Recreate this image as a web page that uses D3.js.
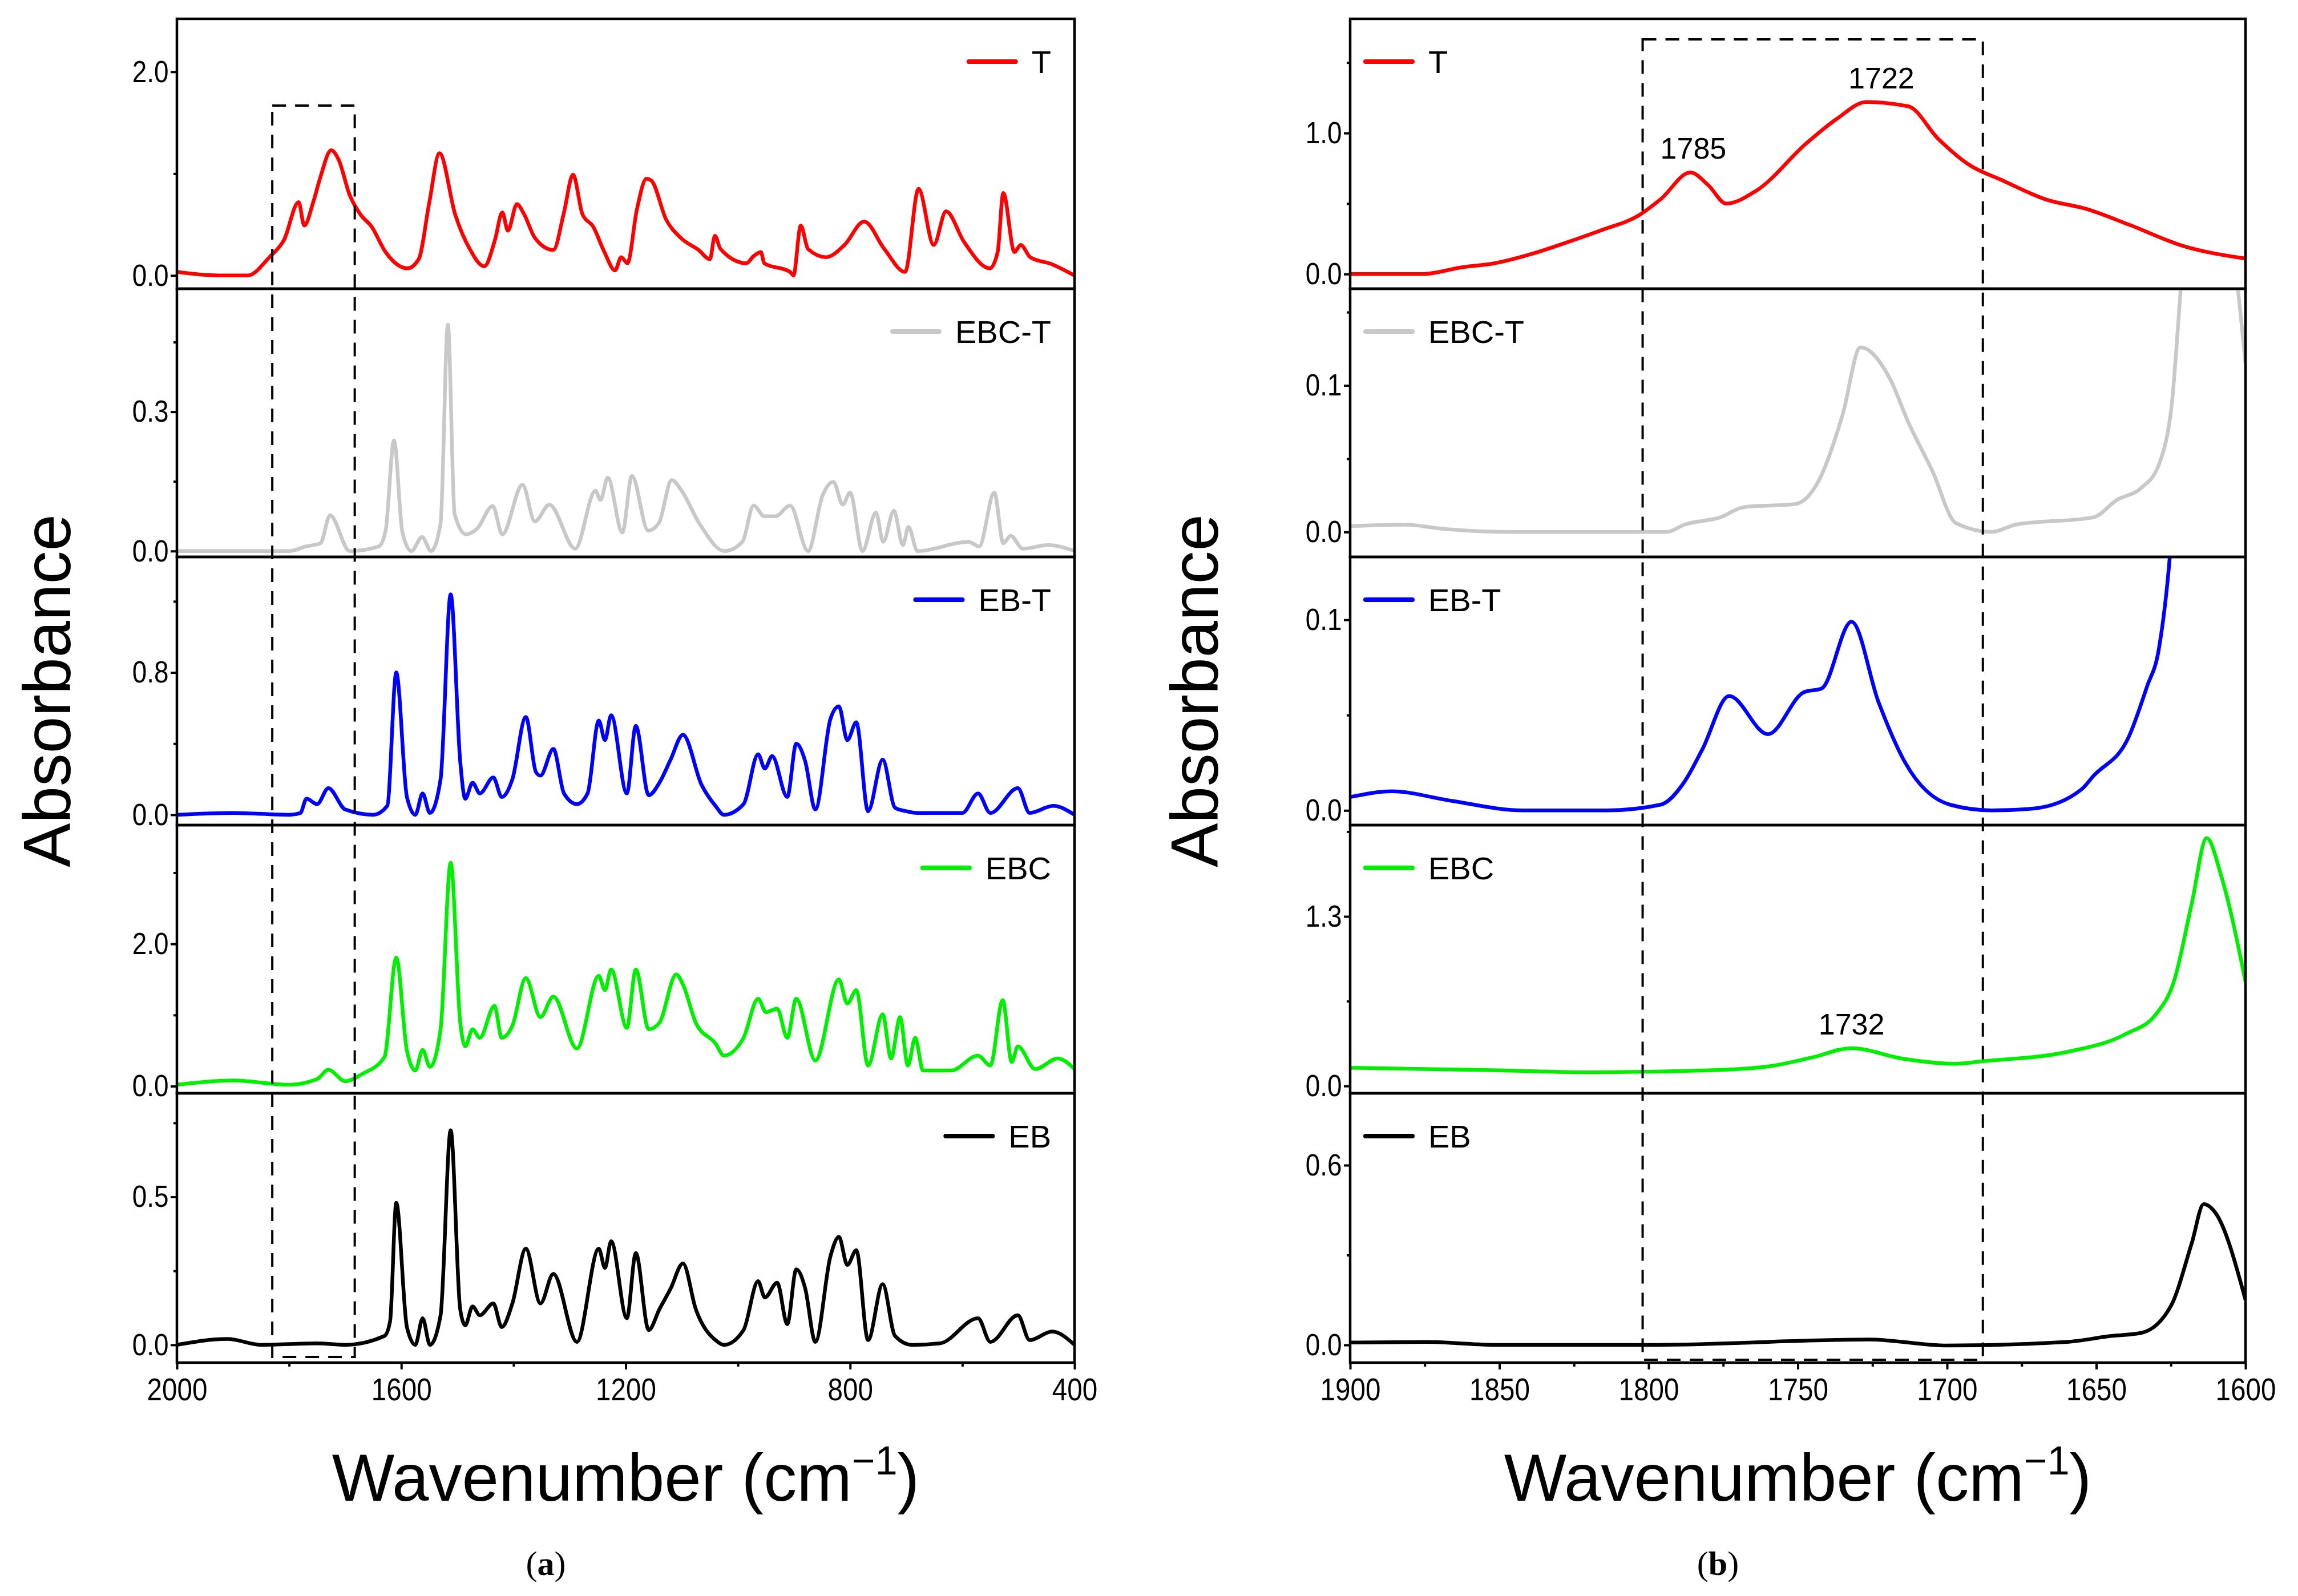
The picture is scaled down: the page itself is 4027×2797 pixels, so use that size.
<!DOCTYPE html>
<html>
<head>
<meta charset="utf-8">
<script src="https://cdn.jsdelivr.net/npm/d3@7"></script>
<style>
  body { margin: 0; background: #fff; }
  svg { display: block; }
</style>
</head>
<body>
<div id="chart"></div>
<script>
'use strict'

// ---------- data: [wavenumber, absorbance] ----------
const seriesNames = ["T", "EBC-T", "EB-T", "EBC", "EB"]
const seriesColors = ["#ff0000", "#c8c8c8", "#0000ff", "#00ee00", "#000000"]

// panel (a), 2000-400 cm-1
const fullT = [[2000,0.035],[1926,0],[1874,0],[1835,0.18],[1809,0.35],[1783,0.72],[1773,0.49],[1757,0.72],[1744,0.97],[1725,1.23],[1712,1.14],[1692,0.79],[1673,0.6],[1653,0.48],[1628,0.23],[1589,0.07],[1569,0.16],[1550,0.72],[1532,1.2],[1504,0.6],[1478,0.26],[1452,0.09],[1433,0.35],[1420,0.62],[1410,0.44],[1394,0.7],[1381,0.6],[1362,0.37],[1329,0.25],[1310,0.62],[1294,0.99],[1277,0.6],[1258,0.48],[1238,0.23],[1219,0.05],[1208,0.18],[1197,0.12],[1180,0.65],[1163,0.95],[1154,0.93],[1128,0.55],[1102,0.37],[1070,0.25],[1050,0.16],[1041,0.39],[1031,0.26],[985,0.12],[972,0.19],[959,0.23],[953,0.12],[907,0.035],[901,0],[888,0.49],[875,0.26],[843,0.18],[810,0.3],[775,0.53],[739,0.26],[702,0.035],[678,0.85],[651,0.3],[629,0.63],[597,0.33],[551,0.07],[537,0.23],[527,0.81],[507,0.23],[496,0.3],[479,0.18],[440,0.11],[400,0]]
const fullEBCT = [[2000,0],[1800,0],[1770,0.01],[1744,0.017],[1727,0.077],[1692,0],[1640,0.01],[1628,0.044],[1613,0.238],[1598,0.04],[1582,0],[1563,0.03],[1547,0],[1530,0.06],[1517,0.488],[1505,0.08],[1485,0.036],[1465,0.048],[1437,0.097],[1420,0.036],[1384,0.143],[1362,0.064],[1336,0.1],[1290,0.005],[1254,0.13],[1245,0.11],[1232,0.158],[1206,0.04],[1189,0.162],[1160,0.044],[1141,0.06],[1118,0.153],[1102,0.133],[1069,0.06],[1024,0],[992,0.02],[972,0.098],[953,0.075],[933,0.075],[907,0.098],[875,0],[849,0.12],[830,0.149],[813,0.1],[800,0.126],[778,0],[754,0.083],[741,0.02],[722,0.087],[706,0.013],[696,0.052],[680,0],[589,0.02],[570,0.01],[543,0.126],[527,0.017],[514,0.033],[492,0.005],[447,0.013],[400,0]]
const fullEBT = [[2000,0],[1900,0.01],[1800,0],[1780,0.01],[1769,0.09],[1750,0.06],[1730,0.15],[1700,0.03],[1650,0],[1625,0.05],[1609,0.8],[1590,0.1],[1575,0],[1562,0.12],[1549,0.01],[1530,0.2],[1512,1.24],[1495,0.3],[1486,0.09],[1473,0.18],[1460,0.12],[1436,0.21],[1421,0.1],[1402,0.2],[1378,0.55],[1360,0.24],[1352,0.22],[1329,0.37],[1310,0.12],[1287,0.06],[1268,0.12],[1248,0.53],[1237,0.42],[1226,0.56],[1198,0.12],[1182,0.5],[1159,0.11],[1140,0.18],[1120,0.31],[1098,0.45],[1065,0.17],[1040,0.05],[1025,0],[990,0.06],[964,0.34],[952,0.26],[939,0.33],[912,0.1],[896,0.4],[880,0.3],[862,0.03],[835,0.54],[820,0.61],[805,0.42],[789,0.52],[768,0.02],[742,0.31],[720,0.04],[700,0.02],[680,0.01],[600,0.01],[572,0.12],[550,0.01],[501,0.15],[480,0.01],[438,0.05],[400,0]]
const fullEBC = [[2000,0.02],[1900,0.08],[1800,0.02],[1750,0.1],[1730,0.23],[1700,0.07],[1670,0.17],[1630,0.41],[1609,1.81],[1590,0.5],[1575,0.22],[1562,0.51],[1549,0.27],[1530,0.8],[1512,3.14],[1495,0.9],[1486,0.56],[1473,0.8],[1460,0.68],[1434,1.13],[1421,0.68],[1402,0.85],[1378,1.52],[1352,0.97],[1329,1.26],[1287,0.53],[1248,1.55],[1237,1.35],[1226,1.64],[1198,0.82],[1182,1.64],[1159,0.8],[1140,0.89],[1110,1.57],[1098,1.43],[1075,0.89],[1040,0.6],[1025,0.43],[990,0.68],[964,1.23],[950,1.04],[930,1.09],[912,0.68],[896,1.23],[862,0.36],[820,1.5],[805,1.16],[789,1.35],[768,0.29],[742,1.01],[727,0.39],[711,0.97],[697,0.29],[684,0.68],[670,0.22],[620,0.22],[572,0.43],[550,0.29],[528,1.21],[512,0.34],[501,0.56],[470,0.24],[430,0.39],[400,0.24]]
const fullEB = [[2000,0],[1910,0.02],[1850,0],[1750,0.005],[1700,0],[1630,0.03],[1620,0.08],[1609,0.48],[1590,0.06],[1575,0],[1562,0.09],[1549,0],[1530,0.1],[1512,0.725],[1495,0.12],[1486,0.066],[1473,0.13],[1460,0.1],[1436,0.14],[1421,0.06],[1402,0.14],[1378,0.325],[1352,0.14],[1329,0.24],[1287,0.01],[1248,0.325],[1237,0.26],[1226,0.35],[1198,0.09],[1182,0.31],[1159,0.05],[1140,0.12],[1120,0.19],[1098,0.275],[1075,0.12],[1040,0.016],[1025,0],[990,0.05],[964,0.215],[952,0.16],[930,0.21],[912,0.07],[896,0.255],[880,0.19],[862,0.01],[835,0.3],[820,0.365],[805,0.27],[789,0.32],[768,0.016],[742,0.205],[720,0.03],[690,0],[640,0.005],[572,0.09],[550,0.01],[501,0.1],[480,0.016],[440,0.045],[400,0]]

// panel (b), 1900-1600 cm-1
const zoomT = [[1900,0],[1876,0],[1862,0.05],[1852,0.075],[1838,0.15],[1828,0.22],[1816,0.31],[1803,0.42],[1796,0.53],[1786,0.72],[1780,0.63],[1774,0.5],[1764,0.59],[1747,0.93],[1737,1.1],[1727,1.22],[1713,1.19],[1703,0.96],[1693,0.78],[1681,0.66],[1667,0.53],[1653,0.46],[1639,0.35],[1621,0.2],[1600,0.11]]
const zoomEBCT = [[1900,0.004],[1882,0.005],[1868,0.002],[1846,0],[1794,0],[1788,0.005],[1776,0.01],[1768,0.017],[1751,0.019],[1743,0.035],[1735,0.08],[1729,0.126],[1719,0.104],[1713,0.075],[1705,0.042],[1697,0.006],[1685,0],[1677,0.005],[1651,0.01],[1643,0.022],[1635,0.03],[1629,0.046],[1625,0.082],[1620,0.2],[1613,0.238],[1605,0.2],[1600,0.115]]
const zoomEBT = [[1900,0.007],[1886,0.01],[1866,0.005],[1842,0],[1814,0],[1796,0.003],[1788,0.015],[1782,0.032],[1773,0.06],[1760,0.04],[1748,0.062],[1742,0.064],[1732,0.099],[1723,0.057],[1714,0.025],[1699,0.003],[1685,0],[1671,0.001],[1655,0.011],[1651,0.018],[1639,0.039],[1633,0.065],[1629,0.085],[1625,0.14],[1615,0.5],[1609,0.8],[1600,0.4]]
const zoomEBC = [[1900,0.14],[1850,0.12],[1820,0.105],[1780,0.12],[1760,0.15],[1745,0.22],[1732,0.29],[1715,0.21],[1697,0.17],[1688,0.19],[1660,0.26],[1640,0.4],[1630,0.55],[1624,0.8],[1618,1.4],[1613,1.9],[1608,1.6],[1600,0.8]]
const zoomEB = [[1900,0.008],[1875,0.01],[1850,0],[1800,0],[1726,0.018],[1700,-0.002],[1660,0.01],[1645,0.03],[1635,0.04],[1625,0.13],[1618,0.34],[1614,0.47],[1610,0.44],[1600,0.15]]

// y domains, major and minor ticks per panel
const fullDomains = [[-0.13, 2.52], [-0.0126, 0.565], [-0.058, 1.45], [-0.1, 3.67], [-0.06, 0.85]]
const fullMajor = [[0, 2], [0, 0.3], [0, 0.8], [0, 2], [0, 0.5]]
const fullMinor = [[1], [0.15, 0.45], [0.4, 1.2], [1, 3], [0.25, 0.75]]
const zoomDomains = [[-0.104, 1.81], [-0.017, 0.166], [-0.0077, 0.133], [-0.056, 2.0], [-0.059, 0.84]]
const zoomMajor = [[0, 1], [0, 0.1], [0, 0.1], [0, 1.3], [0, 0.6]]
const zoomMinor = [[0.5, 1.5], [0.05, 0.15], [0.05], [0.65, 1.95], [0.3]]

const fullXTicks = [2000, 1600, 1200, 800, 400]
const fullXMinor = [1800, 1400, 1000, 600]
const zoomXTicks = [1900, 1850, 1800, 1750, 1700, 1650, 1600]
const zoomXMinor = [1875, 1825, 1775, 1725, 1675, 1625]

const annotations = [
  { panel: 0, wn: 1785, v: 0.72, text: "1785" },
  { panel: 0, wn: 1722, v: 1.22, text: "1722" },
  { panel: 3, wn: 1732, v: 0.29, text: "1732" }
]

////////////////////////////////////
//////////// svg setup /////////////
////////////////////////////////////

const W = 4027, H = 2797
const svg = d3.select("#chart").append("svg").attr("width", W).attr("height", H)

const narrow = "'Liberation Sans Narrow', 'Arial Narrow', 'Liberation Sans', Arial, sans-serif"
const regular = "'Liberation Sans', Arial, sans-serif"
const panelEdges = [33, 506, 976, 1446, 1916, 2388]

// squeeze text horizontally a bit, the original uses a condensed face
function condense(sel, k) {
  sel.each(function () {
    const t = d3.select(this)
    const x = +t.attr("x") || 0
    const y = +t.attr("y") || 0
    t.attr("transform", `translate(${x},${y}) scale(${k},1) translate(${-x},${-y})`)
  })
}

function drawBlock(opts) {
  const x = d3.scaleLinear().domain(opts.xDomain).range([opts.x0, opts.x1])
  const g = svg.append("g")

  opts.series.forEach((data, i) => {
    const top = panelEdges[i], bot = panelEdges[i + 1]
    const y = d3.scaleLinear().domain(opts.domains[i]).range([bot, top])

    const clipId = `clip-${opts.id}-${i}`
    g.append("clipPath").attr("id", clipId)
      .append("rect").attr("x", opts.x0).attr("y", top).attr("width", opts.x1 - opts.x0).attr("height", bot - top)

    const line = d3.line().x(d => x(d[0])).y(d => y(d[1])).curve(d3.curveMonotoneX)
    g.append("path")
      .datum(data)
      .attr("clip-path", `url(#${clipId})`)
      .attr("fill", "none")
      .attr("stroke", seriesColors[i])
      .attr("stroke-width", 6.5)
      .attr("stroke-linejoin", "round")
      .attr("d", line)

    // y axis
    const ax = g.append("g").attr("transform", `translate(${opts.x0},0)`)
      .call(d3.axisLeft(y).tickValues(opts.major[i]).tickFormat(d3.format(".1f")).tickSize(11).tickPadding(6))
    ax.select(".domain").remove()
    ax.selectAll("line").attr("stroke-width", 4)
    ax.selectAll("text").style("font-family", narrow).style("font-size", "54px")
      .attr("transform", "scale(0.85,1)")
    const axm = g.append("g").attr("transform", `translate(${opts.x0},0)`)
      .call(d3.axisLeft(y).tickValues(opts.minor[i]).tickFormat("").tickSize(6))
    axm.select(".domain").remove()
    axm.selectAll("line").attr("stroke-width", 4)

    // legend
    const ly = top + 75
    const lg = g.append("g")
    const lt = lg.append("text")
      .attr("y", ly).attr("dy", "0.35em")
      .style("font-family", narrow).style("font-size", "56px")
      .text(seriesNames[i])
    const tw = lt.node().getComputedTextLength()
    let tx = opts.legendRight ? opts.legendRight - tw : opts.legendLeft + 110
    lt.attr("x", tx)
    lg.append("line").attr("x1", tx - 110).attr("x2", tx - 28).attr("y1", ly).attr("y2", ly)
      .attr("stroke", seriesColors[i]).attr("stroke-width", 8).attr("stroke-linecap", "round")

    // annotations
    if (opts.annotate) {
      annotations.filter(a => a.panel === i).forEach(a => {
        g.append("text").attr("x", x(a.wn)).attr("y", y(a.v) - 24)
          .attr("text-anchor", "middle")
          .style("font-family", regular).style("font-size", "52px")
          .text(a.text)
      })
    }

    // frame
    g.append("rect").attr("x", opts.x0).attr("y", top).attr("width", opts.x1 - opts.x0).attr("height", bot - top)
      .attr("fill", "none").attr("stroke", "#000").attr("stroke-width", 4.5)
  })

  // bottom x axis
  const bx = g.append("g").attr("transform", `translate(0,${panelEdges[5]})`)
    .call(d3.axisBottom(x).tickValues(opts.xTicks).tickFormat(d3.format("d")).tickSize(12).tickPadding(14))
  bx.select(".domain").remove()
  bx.selectAll("line").attr("stroke-width", 4)
  bx.selectAll("text").style("font-family", narrow).style("font-size", "56px")
    .call(condense, 0.85)
  const bxm = g.append("g").attr("transform", `translate(0,${panelEdges[5]})`)
    .call(d3.axisBottom(x).tickValues(opts.xMinor).tickFormat("").tickSize(7))
  bxm.select(".domain").remove()
  bxm.selectAll("line").attr("stroke-width", 4)

  // dashed region box
  g.append("rect")
    .attr("x", x(opts.box[0])).attr("y", opts.box[2])
    .attr("width", x(opts.box[1]) - x(opts.box[0])).attr("height", opts.box[3] - opts.box[2])
    .attr("fill", "none").attr("stroke", "#000").attr("stroke-width", 4).attr("stroke-dasharray", "24,16")

  // axis titles
  const cx = (opts.x0 + opts.x1) / 2
  svg.append("text")
    .attr("transform", `translate(${opts.x0 - opts.yTitleOffset},${(panelEdges[0] + panelEdges[5]) / 2}) rotate(-90)`)
    .attr("text-anchor", "middle").attr("dy", "0.35em")
    .style("font-family", regular).style("font-size", "116px")
    .text("Absorbance")
  const xt = svg.append("text")
    .attr("x", cx).attr("y", 2630).attr("text-anchor", "middle")
    .style("font-family", regular).style("font-size", "116px")
  xt.append("tspan").text("Wavenumber (cm")
  xt.append("tspan").attr("dy", -46).style("font-size", "70px").text("\u22121")
  xt.append("tspan").attr("dy", 46).text(")")
  const cap = svg.append("text").attr("x", cx - 140).attr("y", 2760).attr("text-anchor", "middle")
    .style("font-family", "'Liberation Serif', 'Times New Roman', serif").style("font-size", "60px")
  cap.append("tspan").text("(")
  cap.append("tspan").style("font-weight", "bold").text(opts.label)
  cap.append("tspan").text(")")
}

drawBlock({
  id: "a", x0: 310, x1: 1883, xDomain: [2000, 400],
  series: [fullT, fullEBCT, fullEBT, fullEBC, fullEB],
  domains: fullDomains, major: fullMajor, minor: fullMinor,
  xTicks: fullXTicks, xMinor: fullXMinor,
  legendRight: 1842, box: [1830, 1683, 185, 2378], label: "a", annotate: false, yTitleOffset: 228
})

drawBlock({
  id: "b", x0: 2366, x1: 3935, xDomain: [1900, 1600],
  series: [zoomT, zoomEBCT, zoomEBT, zoomEBC, zoomEB],
  domains: zoomDomains, major: zoomMajor, minor: zoomMinor,
  xTicks: zoomXTicks, xMinor: zoomXMinor,
  legendLeft: 2393, box: [1802, 1688, 69, 2383], label: "b", annotate: true, yTitleOffset: 273
})
</script>
</body>
</html>
